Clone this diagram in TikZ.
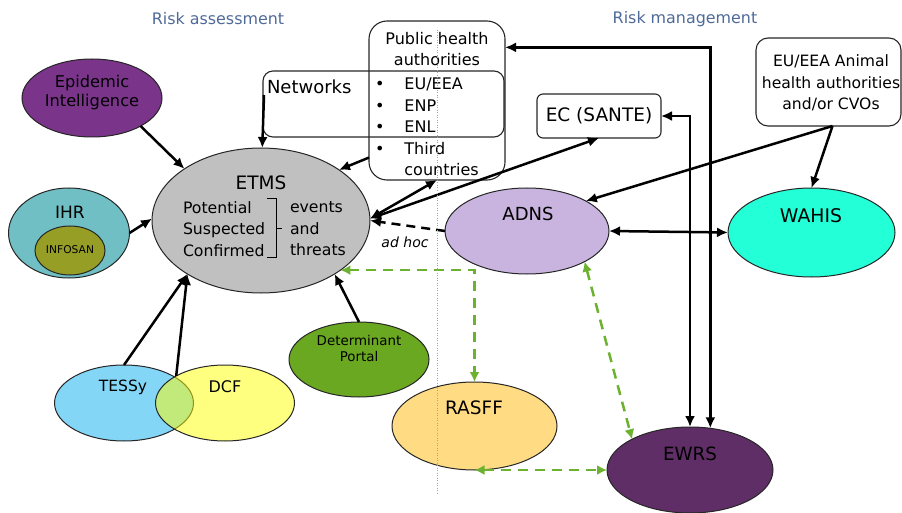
\documentclass[tikz,border=0pt]{standalone}
\usepackage{fontspec}
\setmainfont{DejaVu Sans}
\usetikzlibrary{shapes.geometric,arrows.meta,calc}
\newcommand{\myfs}[2]{\fontsize{#1pt}{#2pt}\selectfont}
\definecolor{cHdr}{RGB}{79,106,153}
\definecolor{cEpi}{RGB}{122,52,138}
\definecolor{cIHR}{RGB}{112,191,196}
\definecolor{cInfo}{RGB}{150,158,38}
\definecolor{cEtms}{RGB}{192,192,192}
\definecolor{cAdns}{RGB}{200,180,222}
\definecolor{cWahis}{RGB}{35,255,215}
\definecolor{cDet}{RGB}{106,168,34}
\definecolor{cTessy}{RGB}{132,214,247}
\definecolor{cDcf}{RGB}{255,255,0}
\definecolor{cRasff}{RGB}{255,220,132}
\definecolor{cEwrs}{RGB}{96,46,102}
\definecolor{cGrn}{RGB}{108,178,48}
\definecolor{cSep}{RGB}{140,165,215}
\begin{document}
\begin{tikzpicture}[x=1pt,y=-1pt,
  ell/.style={ellipse, draw=black!85, line width=1pt, inner sep=0pt, outer sep=0pt},
  rbox/.style={draw=black!85, line width=1.1pt, inner sep=0pt, outer sep=0pt},
  txt/.style={inner sep=0pt, outer sep=0pt, text=black},
  hdr/.style={inner sep=0pt, text=cHdr, font=\myfs{15.9}{19}},
  arr/.style={draw=black, line width=2.5pt, -{Latex[length=11pt,width=10pt]}},
  dbl/.style={draw=black, line width=2.5pt, {Latex[length=11pt,width=10pt]}-{Latex[length=11pt,width=10pt]}},
  adhocline/.style={draw=black, line width=2.5pt, dash pattern=on 9pt off 6pt, -{Latex[length=11pt,width=10pt]}},
  gd/.style={draw=cGrn, line width=2.5pt, dash pattern=on 10pt off 7pt, {Latex[length=10pt,width=10pt]}-{Latex[length=10pt,width=10pt]}},
  sepline/.style={draw=cSep, line width=0.9pt, dash pattern=on 1pt off 1.5pt}
]
\useasboundingbox (0,0) rectangle (902,513);

% headers
\node[hdr] (ra) at (218,19) {Risk assessment};
\node[hdr] (rm) at (685,19) {Risk management};

% boxes
\node[rbox, rounded corners=10pt, minimum width=241pt, minimum height=66pt] (networks) at (383.5,104) {};
\node[txt, anchor=west, font=\myfs{18}{21}] (networksT) at (267,87) {Networks};
\node[rbox, rounded corners=18pt, minimum width=136pt, minimum height=159pt] (public) at (437,100.5) {};
\node[txt, align=center, font=\myfs{16}{21.7}] (publicT) at (437,49) {Public health\\authorities};
\node[txt, anchor=west, font=\myfs{16}{21.5}] (publicL) at (375,128.5) {%
\begin{tabular}{@{}l@{\hspace{20pt}}l@{}}
• & EU/EEA\\
• & ENP\\
• & ENL\\
• & Third\\
  & countries
\end{tabular}};
\node[rbox, rounded corners=6pt, minimum width=124pt, minimum height=44pt, font=\myfs{18.5}{21}] (ec) at (599,116) {EC (SANTE)};
\node[rbox, rounded corners=12pt, minimum width=145pt, minimum height=88pt] (animal) at (828.5,82) {};
\node[txt, align=center, font=\myfs{15.6}{21.5}] (animalT) at (831,83) {EU/EEA Animal\\health authorities\\and/or CVOs};

% ellipses
\node[ell, fill=cEpi, minimum width=140pt, minimum height=78pt] (epi) at (92,98) {};
\node[txt, align=center, font=\myfs{16.2}{19}] (epiT) at (92,93) {Epidemic\\Intelligence};

\node[ell, fill=cIHR, minimum width=121pt, minimum height=90pt] (ihr) at (69,233) {};
\node[txt, font=\myfs{17}{20}] (ihrT) at (70,212) {IHR};
\node[ell, fill=cInfo, minimum width=70pt, minimum height=49pt] (infosan) at (70,250.5) {};
\node[txt, font=\myfs{10.7}{12}] (infosanT) at (70,250) {INFOSAN};

\node[ell, fill=cEtms, minimum width=218pt, minimum height=145pt] (etms) at (261,220.5) {};
\node[txt, font=\myfs{18.5}{21}] (etmsT) at (261,183) {ETMS};
\node[txt, anchor=west, align=left, font=\myfs{15.7}{21.5}] (etmsL) at (183,229) {Potential\\Suspected\\Confirmed};
\node[txt, anchor=west, align=left, font=\myfs{15.7}{21.5}] (etmsR) at (290,229) {events\\and\\threats};
\draw[line width=1pt] (267,199) -- (276,199) -- (276,257) -- (267,257);
\draw[line width=1pt] (276,229) -- (282,229);

\node[ell, fill=cAdns, minimum width=164pt, minimum height=86pt] (adns) at (527,231) {};
\node[txt, font=\myfs{18}{21}] (adnsT) at (528,214) {ADNS};

\node[ell, fill=cWahis, minimum width=167pt, minimum height=89pt] (wahis) at (811.5,232.5) {};
\node[txt, font=\myfs{18.8}{21}] (wahisT) at (811,216) {WAHIS};

\node[ell, fill=cDet, minimum width=140pt, minimum height=75pt] (det) at (359,359.5) {};
\node[txt, align=center, font=\myfs{13.4}{16}] (detT) at (359,349) {Determinant\\Portal};

\node[ell, fill=cTessy, minimum width=139pt, minimum height=76pt] (tessy) at (124,403) {};
\node[ell, fill=cDcf, fill opacity=0.5, minimum width=139pt, minimum height=76pt] (dcf) at (225,403) {};
\node[txt, font=\myfs{15.5}{18}] (tessyT) at (123,387) {TESSy};
\node[txt, font=\myfs{16}{18}] (dcfT) at (225,387) {DCF};

\node[ell, fill=cRasff, minimum width=165pt, minimum height=88pt] (rasff) at (474.5,426) {};
\node[txt, font=\myfs{18.5}{21}] (rasffT) at (474,408) {RASFF};

\node[ell, fill=cEwrs, minimum width=166pt, minimum height=86pt] (ewrs) at (690,470) {};
\node[txt, font=\myfs{18.3}{21}] (ewrsT) at (690,454) {EWRS};

% connectors
\draw[arr] (epi.330.5) -- (etms.146);
\draw[arr] (ihr.east) -- (etms.179);
\draw[arr] ($(networks.north west)+(1,24)$) -- (etms.89);
\draw[arr] (public.220.7) -- (etms.33.3);
\draw[dbl] (etms.1) -- (public.south);
\draw[dbl] (etms.1) -- (ec.south);
\draw[adhocline] (adns.west) -- (etms.0);
\node[txt, font=\myfs{14}{16}\itshape] (adhoc) at (405,242) {ad hoc};
\draw[dbl] (public.38.2) -| (ewrs.64.4);
\draw[dbl] (ec.east) -| (ewrs.north);
\draw[arr] ($(animal.south)+(4,0)$) -- (adns.27);
\draw[arr] ($(animal.south)+(4,0)$) -- (wahis.north);
\draw[dbl] (adns.east) -- (wahis.west);
\draw[arr] (tessy.north) -- (etms.216);
\draw[arr] (dcf.151.6) -- (etms.216);
\draw[arr] (det.north) -- (etms.324.4);
\draw[gd] (etms.328) -| (rasff.north);
\draw[gd] (adns.332) -- (ewrs.152.6);
\draw[gd] (rasff.south) -- (ewrs.west);

% separator
\draw[sepline] (437,30) -- (437,495);
\end{tikzpicture}
\end{document}
